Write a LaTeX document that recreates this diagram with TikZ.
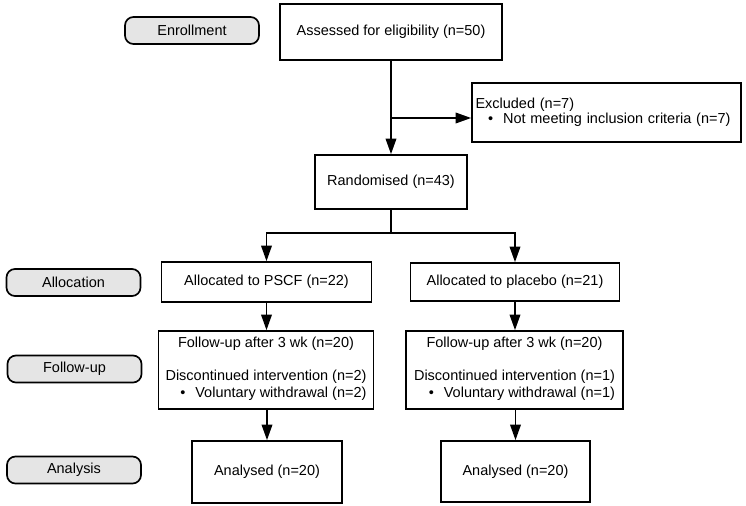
\documentclass[tikz,border=0pt]{standalone}
\usepackage{fontspec}
\setmainfont{Liberation Sans}
\usepackage{tikz}
\usetikzlibrary{arrows.meta}

\tikzset{
	box/.style={draw, line width=1.2pt, inner sep=2pt},
	stage/.style={draw, line width=1.2pt, rounded corners=6pt, fill=gray!20,
		minimum width=134*0.025cm, minimum height=27*0.025cm},
	arr/.style={line width=1.2pt, -{Triangle[length=11pt,width=7.5pt]}},
	link/.style={line width=1.2pt}
}

\begin{document}
\begin{tikzpicture}[x=0.025cm, y=-0.025cm, font=\fontsize{10.3}{12}\selectfont]
	\useasboundingbox (0, 0) rectangle (746, 506);
	% stages on the left
	\node [stage] (enrol) at (192, 30.5) {Enrollment};
	\node [stage] (alloc) at (73.5, 282.5) {Allocation};
	\node [stage] (follow) at (74.5, 369) {Follow-up};
	\node [stage] (analys) at (74, 470) {Analysis};
	% flow
	\node [box, minimum width=222*0.025cm, minimum height=56*0.025cm] (assess) at (391, 32) {Assessed for eligibility (n=50)};
	\node [box, minimum width=269*0.025cm, minimum height=59*0.025cm, text width=262*0.025cm, align=left] (excl) at (606.5, 112.5)
		{Excluded (n=7)\\[-1pt]\hspace*{9pt}\textbullet\hspace{7pt}Not meeting inclusion criteria (n=7)\\[4pt]};
	\node [box, minimum width=152*0.025cm, minimum height=54*0.025cm] (rand) at (391, 182) {Randomised (n=43)};
	\node [box, minimum width=210*0.025cm, minimum height=40*0.025cm] (pscf) at (266.5, 282) {Allocated to PSCF (n=22)};
	\node [box, minimum width=209*0.025cm, minimum height=38*0.025cm] (plac) at (515, 282) {Allocated to placebo (n=21)};
	\node [box, minimum width=215*0.025cm, minimum height=78*0.025cm, align=center] (fupscf) at (266, 370)
		{Follow-up after 3 wk (n=20)\\[12pt]
		\begin{tabular}{@{}r@{}}Discontinued intervention (n=2)\\ \textbullet\hspace{7pt}Voluntary withdrawal (n=2)\end{tabular}};
	\node [box, minimum width=217*0.025cm, minimum height=78*0.025cm, align=center] (fuplac) at (514.5, 370)
		{Follow-up after 3 wk (n=20)\\[12pt]
		\begin{tabular}{@{}r@{}}Discontinued intervention (n=1)\\ \textbullet\hspace{7pt}Voluntary withdrawal (n=1)\end{tabular}};
	\node [box, minimum width=150*0.025cm, minimum height=62*0.025cm] (anpscf) at (267, 472) {Analysed (n=20)};
	\node [box, minimum width=149*0.025cm, minimum height=61*0.025cm] (anplac) at (515.5, 471.5) {Analysed (n=20)};
	% connectors
	\coordinate (split) at (391, 118);
	\coordinate (fork) at (391, 233);
	\draw [arr] (assess.south) -- (rand.north);
	\draw [arr] (split) -- (split -| excl.west);
	\draw [link] (rand.south) -- (fork);
	\draw [arr] (fork) -| (pscf.north);
	\draw [arr] (fork) -| (plac.north);
	\draw [arr] (pscf.south) -- (pscf.south |- fupscf.north);
	\draw [arr] (plac.south) -- (plac.south |- fuplac.north);
	\draw [arr] (fupscf.south -| anpscf.north) -- (anpscf.north);
	\draw [arr] (fuplac.south -| anplac.north) -- (anplac.north);
\end{tikzpicture}
\end{document}
